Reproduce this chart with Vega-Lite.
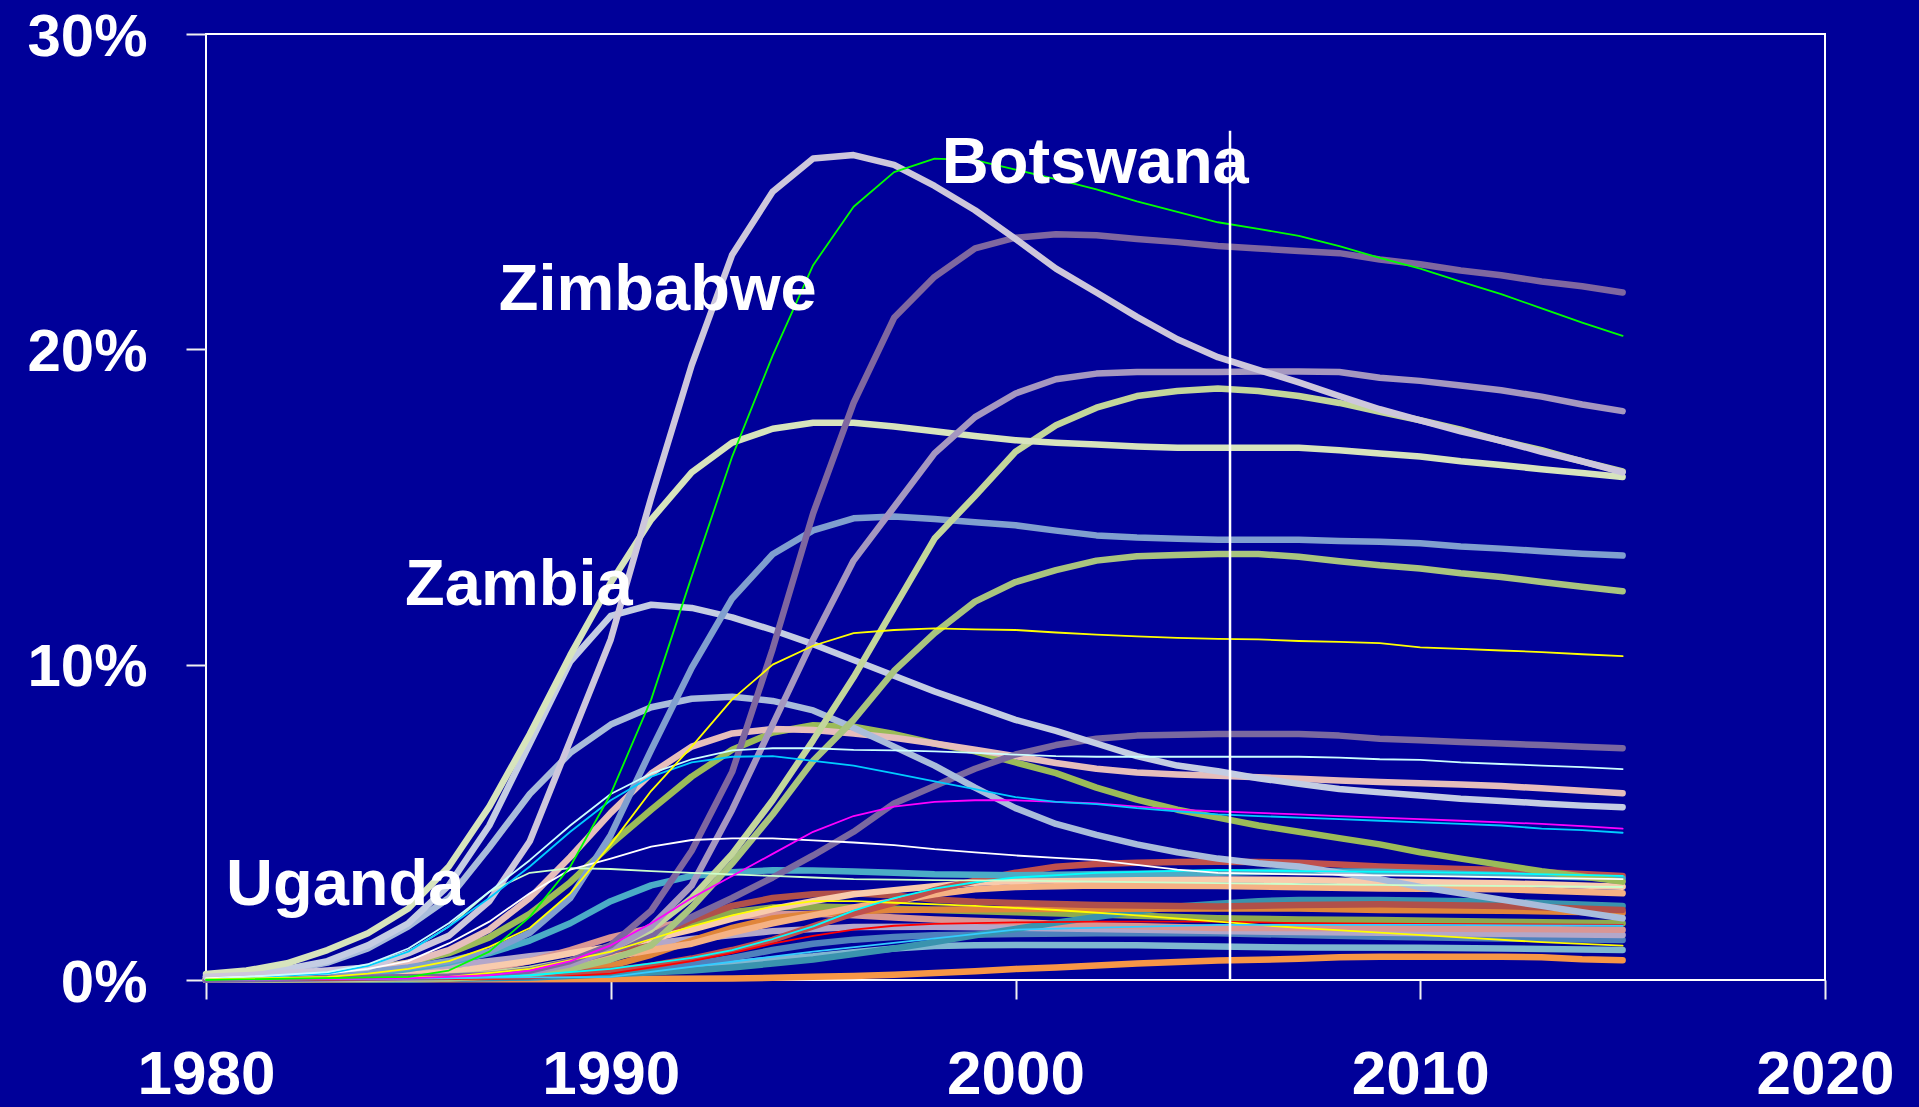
{
"$schema":"https://vega.github.io/schema/vega-lite/v6.json",
"width":1619,"height":946,
"autosize":{"type":"none"},
"padding":{"left":206,"top":34,"right":94,"bottom":127},
"background":"#000099",
"config":{"view":{"stroke":"#FFFFFF","strokeWidth":2,"fill":"#000099"},
"axis":{"grid":false,"domain":false,"title":null,"tickColor":"#F0F0F0","tickWidth":2,"labelFont":"Liberation Sans","labelFontWeight":"bold","labelFontSize":62,"labelColor":"#FFFFFF","labelOverlap":false,"labelFlush":false}},
"datasets":{
"d":[
{"s":"s01","yr":1980,"v":0.02},{"s":"s01","yr":1985,"v":0.02},{"s":"s01","yr":1990,"v":0.03},{"s":"s01","yr":1993,"v":0.05},{"s":"s01","yr":1994,"v":0.07},{"s":"s01","yr":1995,"v":0.1},{"s":"s01","yr":1996,"v":0.13},{"s":"s01","yr":1997,"v":0.17},{"s":"s01","yr":1998,"v":0.22},{"s":"s01","yr":1999,"v":0.28},{"s":"s01","yr":2000,"v":0.35},{"s":"s01","yr":2001,"v":0.4},{"s":"s01","yr":2002,"v":0.46},{"s":"s01","yr":2003,"v":0.52},{"s":"s01","yr":2004,"v":0.57},{"s":"s01","yr":2005,"v":0.62},{"s":"s01","yr":2006,"v":0.64},{"s":"s01","yr":2007,"v":0.67},{"s":"s01","yr":2008,"v":0.72},{"s":"s01","yr":2009,"v":0.74},{"s":"s01","yr":2012,"v":0.74},{"s":"s01","yr":2013,"v":0.72},{"s":"s01","yr":2014,"v":0.66},{"s":"s01","yr":2015,"v":0.63},
{"s":"s02","yr":1980,"v":0.01},{"s":"s02","yr":1985,"v":0.02},{"s":"s02","yr":1988,"v":0.08},{"s":"s02","yr":1990,"v":0.2},{"s":"s02","yr":1991,"v":0.3},{"s":"s02","yr":1992,"v":0.42},{"s":"s02","yr":1993,"v":0.53},{"s":"s02","yr":1994,"v":0.65},{"s":"s02","yr":1995,"v":0.75},{"s":"s02","yr":1996,"v":0.88},{"s":"s02","yr":1997,"v":1.0},{"s":"s02","yr":1998,"v":1.08},{"s":"s02","yr":1999,"v":1.1},{"s":"s02","yr":2000,"v":1.11},{"s":"s02","yr":2003,"v":1.1},{"s":"s02","yr":2005,"v":1.06},{"s":"s02","yr":2007,"v":1.03},{"s":"s02","yr":2010,"v":1.02},{"s":"s02","yr":2012,"v":1.0},{"s":"s02","yr":2015,"v":0.95},
{"s":"s03","yr":1980,"v":0.01},{"s":"s03","yr":1985,"v":0.03},{"s":"s03","yr":1988,"v":0.1},{"s":"s03","yr":1990,"v":0.25},{"s":"s03","yr":1991,"v":0.37},{"s":"s03","yr":1992,"v":0.5},{"s":"s03","yr":1993,"v":0.7},{"s":"s03","yr":1994,"v":0.95},{"s":"s03","yr":1995,"v":1.15},{"s":"s03","yr":1996,"v":1.28},{"s":"s03","yr":1997,"v":1.36},{"s":"s03","yr":1998,"v":1.42},{"s":"s03","yr":2000,"v":1.46},{"s":"s03","yr":2002,"v":1.48},{"s":"s03","yr":2005,"v":1.48},{"s":"s03","yr":2007,"v":1.43},{"s":"s03","yr":2009,"v":1.37},{"s":"s03","yr":2012,"v":1.32},{"s":"s03","yr":2015,"v":1.27},
{"s":"s04","yr":1980,"v":0.02},{"s":"s04","yr":1982,"v":0.05},{"s":"s04","yr":1984,"v":0.2},{"s":"s04","yr":1986,"v":0.45},{"s":"s04","yr":1988,"v":0.75},{"s":"s04","yr":1990,"v":1.0},{"s":"s04","yr":1992,"v":1.3},{"s":"s04","yr":1994,"v":1.55},{"s":"s04","yr":1996,"v":1.68},{"s":"s04","yr":1998,"v":1.69},{"s":"s04","yr":2000,"v":1.66},{"s":"s04","yr":2005,"v":1.55},{"s":"s04","yr":2009,"v":1.5},{"s":"s04","yr":2015,"v":1.43},
{"s":"s05","yr":1980,"v":0.01},{"s":"s05","yr":1985,"v":0.1},{"s":"s05","yr":1987,"v":0.35},{"s":"s05","yr":1988,"v":0.6},{"s":"s05","yr":1989,"v":0.95},{"s":"s05","yr":1990,"v":1.35},{"s":"s05","yr":1991,"v":1.65},{"s":"s05","yr":1992,"v":1.88},{"s":"s05","yr":1993,"v":2.0},{"s":"s05","yr":1994,"v":2.08},{"s":"s05","yr":1995,"v":2.1},{"s":"s05","yr":1996,"v":2.05},{"s":"s05","yr":1997,"v":1.98},{"s":"s05","yr":1998,"v":1.92},{"s":"s05","yr":2000,"v":1.83},{"s":"s05","yr":2002,"v":1.74},{"s":"s05","yr":2005,"v":1.65},{"s":"s05","yr":2009,"v":1.64},{"s":"s05","yr":2012,"v":1.62},{"s":"s05","yr":2015,"v":1.59},
{"s":"s06","yr":1980,"v":0.01},{"s":"s06","yr":1986,"v":0.1},{"s":"s06","yr":1988,"v":0.3},{"s":"s06","yr":1989,"v":0.55},{"s":"s06","yr":1990,"v":0.9},{"s":"s06","yr":1991,"v":1.35},{"s":"s06","yr":1992,"v":1.8},{"s":"s06","yr":1993,"v":2.15},{"s":"s06","yr":1994,"v":2.3},{"s":"s06","yr":1995,"v":2.33},{"s":"s06","yr":1996,"v":2.3},{"s":"s06","yr":1998,"v":2.22},{"s":"s06","yr":2000,"v":2.15},{"s":"s06","yr":2002,"v":2.08},{"s":"s06","yr":2005,"v":1.96},{"s":"s06","yr":2007,"v":1.92},{"s":"s06","yr":2009,"v":1.9},{"s":"s06","yr":2012,"v":1.85},{"s":"s06","yr":2015,"v":1.8},
{"s":"s07","yr":1980,"v":0.01},{"s":"s07","yr":1985,"v":0.02},{"s":"s07","yr":1988,"v":0.08},{"s":"s07","yr":1990,"v":0.18},{"s":"s07","yr":1992,"v":0.3},{"s":"s07","yr":1993,"v":0.4},{"s":"s07","yr":1994,"v":0.52},{"s":"s07","yr":1995,"v":0.65},{"s":"s07","yr":1996,"v":0.82},{"s":"s07","yr":1997,"v":1.0},{"s":"s07","yr":1998,"v":1.2},{"s":"s07","yr":1999,"v":1.42},{"s":"s07","yr":2000,"v":1.62},{"s":"s07","yr":2001,"v":1.82},{"s":"s07","yr":2002,"v":2.0},{"s":"s07","yr":2003,"v":2.18},{"s":"s07","yr":2004,"v":2.33},{"s":"s07","yr":2005,"v":2.42},{"s":"s07","yr":2006,"v":2.5},{"s":"s07","yr":2007,"v":2.54},{"s":"s07","yr":2009,"v":2.54},{"s":"s07","yr":2012,"v":2.48},{"s":"s07","yr":2015,"v":2.35},
{"s":"s08","yr":1980,"v":0.01},{"s":"s08","yr":1986,"v":0.05},{"s":"s08","yr":1988,"v":0.15},{"s":"s08","yr":1990,"v":0.45},{"s":"s08","yr":1991,"v":0.8},{"s":"s08","yr":1992,"v":1.25},{"s":"s08","yr":1993,"v":1.65},{"s":"s08","yr":1994,"v":1.95},{"s":"s08","yr":1995,"v":2.1},{"s":"s08","yr":1996,"v":2.18},{"s":"s08","yr":1997,"v":2.22},{"s":"s08","yr":2000,"v":2.25},{"s":"s08","yr":2005,"v":2.27},{"s":"s08","yr":2007,"v":2.27},{"s":"s08","yr":2009,"v":2.22},{"s":"s08","yr":2012,"v":2.2},{"s":"s08","yr":2015,"v":2.13},
{"s":"s09","yr":1980,"v":0.01},{"s":"s09","yr":1986,"v":0.1},{"s":"s09","yr":1988,"v":0.25},{"s":"s09","yr":1989,"v":0.45},{"s":"s09","yr":1990,"v":0.8},{"s":"s09","yr":1991,"v":1.3},{"s":"s09","yr":1992,"v":1.9},{"s":"s09","yr":1993,"v":2.35},{"s":"s09","yr":1994,"v":2.6},{"s":"s09","yr":1995,"v":2.72},{"s":"s09","yr":1996,"v":2.75},{"s":"s09","yr":1997,"v":2.68},{"s":"s09","yr":1998,"v":2.55},{"s":"s09","yr":1999,"v":2.48},{"s":"s09","yr":2000,"v":2.44},{"s":"s09","yr":2002,"v":2.38},{"s":"s09","yr":2005,"v":2.33},{"s":"s09","yr":2007,"v":2.38},{"s":"s09","yr":2009,"v":2.4},{"s":"s09","yr":2012,"v":2.35},{"s":"s09","yr":2015,"v":2.22},
{"s":"s10","yr":1980,"v":0.01},{"s":"s10","yr":1986,"v":0.1},{"s":"s10","yr":1988,"v":0.3},{"s":"s10","yr":1989,"v":0.5},{"s":"s10","yr":1990,"v":0.72},{"s":"s10","yr":1991,"v":0.95},{"s":"s10","yr":1992,"v":1.15},{"s":"s10","yr":1993,"v":1.5},{"s":"s10","yr":1994,"v":1.8},{"s":"s10","yr":1995,"v":2.05},{"s":"s10","yr":1996,"v":2.3},{"s":"s10","yr":1997,"v":2.5},{"s":"s10","yr":1998,"v":2.72},{"s":"s10","yr":1999,"v":2.88},{"s":"s10","yr":2000,"v":2.95},{"s":"s10","yr":2002,"v":3.0},{"s":"s10","yr":2005,"v":2.98},{"s":"s10","yr":2007,"v":2.94},{"s":"s10","yr":2009,"v":2.9},{"s":"s10","yr":2012,"v":2.88},{"s":"s10","yr":2015,"v":2.75},
{"s":"s11","yr":1980,"v":0.02},{"s":"s11","yr":1984,"v":0.08},{"s":"s11","yr":1986,"v":0.25},{"s":"s11","yr":1988,"v":0.6},{"s":"s11","yr":1989,"v":0.85},{"s":"s11","yr":1990,"v":1.05},{"s":"s11","yr":1991,"v":1.3},{"s":"s11","yr":1992,"v":1.6},{"s":"s11","yr":1993,"v":1.95},{"s":"s11","yr":1994,"v":2.25},{"s":"s11","yr":1995,"v":2.5},{"s":"s11","yr":1996,"v":2.72},{"s":"s11","yr":1997,"v":2.85},{"s":"s11","yr":1998,"v":2.97},{"s":"s11","yr":1999,"v":3.08},{"s":"s11","yr":2000,"v":3.14},{"s":"s11","yr":2001,"v":3.17},{"s":"s11","yr":2002,"v":3.19},{"s":"s11","yr":2005,"v":3.19},{"s":"s11","yr":2007,"v":3.17},{"s":"s11","yr":2009,"v":3.12},{"s":"s11","yr":2012,"v":3.07},{"s":"s11","yr":2015,"v":2.96},
{"s":"s12","yr":1980,"v":0.01},{"s":"s12","yr":1985,"v":0.05},{"s":"s12","yr":1988,"v":0.15},{"s":"s12","yr":1990,"v":0.3},{"s":"s12","yr":1991,"v":0.45},{"s":"s12","yr":1992,"v":0.68},{"s":"s12","yr":1993,"v":0.95},{"s":"s12","yr":1994,"v":1.27},{"s":"s12","yr":1995,"v":1.7},{"s":"s12","yr":1996,"v":2.11},{"s":"s12","yr":1997,"v":2.45},{"s":"s12","yr":1998,"v":2.85},{"s":"s12","yr":1999,"v":3.15},{"s":"s12","yr":2000,"v":3.4},{"s":"s12","yr":2001,"v":3.59},{"s":"s12","yr":2002,"v":3.68},{"s":"s12","yr":2003,"v":3.72},{"s":"s12","yr":2004,"v":3.74},{"s":"s12","yr":2005,"v":3.75},{"s":"s12","yr":2006,"v":3.74},{"s":"s12","yr":2007,"v":3.72},{"s":"s12","yr":2008,"v":3.66},{"s":"s12","yr":2009,"v":3.6},{"s":"s12","yr":2010,"v":3.56},{"s":"s12","yr":2011,"v":3.52},{"s":"s12","yr":2012,"v":3.49},{"s":"s12","yr":2013,"v":3.42},{"s":"s12","yr":2014,"v":3.36},{"s":"s12","yr":2015,"v":3.3},
{"s":"s13","yr":1980,"v":0.03},{"s":"s13","yr":1983,"v":0.1},{"s":"s13","yr":1984,"v":0.2},{"s":"s13","yr":1985,"v":0.35},{"s":"s13","yr":1986,"v":0.55},{"s":"s13","yr":1987,"v":0.85},{"s":"s13","yr":1988,"v":1.25},{"s":"s13","yr":1989,"v":1.8},{"s":"s13","yr":1990,"v":2.5},{"s":"s13","yr":1991,"v":3.0},{"s":"s13","yr":1992,"v":3.3},{"s":"s13","yr":1993,"v":3.42},{"s":"s13","yr":1994,"v":3.48},{"s":"s13","yr":1995,"v":3.47},{"s":"s13","yr":1996,"v":3.44},{"s":"s13","yr":1997,"v":3.4},{"s":"s13","yr":1998,"v":3.35},{"s":"s13","yr":2000,"v":3.32},{"s":"s13","yr":2002,"v":3.35},{"s":"s13","yr":2005,"v":3.4},{"s":"s13","yr":2007,"v":3.45},{"s":"s13","yr":2009,"v":3.43},{"s":"s13","yr":2012,"v":3.33},{"s":"s13","yr":2015,"v":3.22},
{"s":"s14","yr":1980,"v":0.0},{"s":"s14","yr":1988,"v":0.05},{"s":"s14","yr":1990,"v":0.2},{"s":"s14","yr":1992,"v":0.6},{"s":"s14","yr":1993,"v":0.85},{"s":"s14","yr":1994,"v":1.15},{"s":"s14","yr":1995,"v":1.4},{"s":"s14","yr":1996,"v":1.6},{"s":"s14","yr":1997,"v":1.72},{"s":"s14","yr":1998,"v":1.78},{"s":"s14","yr":2000,"v":1.83},{"s":"s14","yr":2002,"v":1.85},{"s":"s14","yr":2005,"v":1.85},{"s":"s14","yr":2007,"v":1.8},{"s":"s14","yr":2010,"v":1.78},{"s":"s14","yr":2015,"v":1.75},
{"s":"s15","yr":1980,"v":0.0},{"s":"s15","yr":1986,"v":0.1},{"s":"s15","yr":1988,"v":0.35},{"s":"s15","yr":1990,"v":0.9},{"s":"s15","yr":1991,"v":1.3},{"s":"s15","yr":1992,"v":1.7},{"s":"s15","yr":1993,"v":2.05},{"s":"s15","yr":1994,"v":2.33},{"s":"s15","yr":1995,"v":2.5},{"s":"s15","yr":1996,"v":2.5},{"s":"s15","yr":1997,"v":2.45},{"s":"s15","yr":1999,"v":2.35},{"s":"s15","yr":2001,"v":2.22},{"s":"s15","yr":2003,"v":2.05},{"s":"s15","yr":2005,"v":1.85},{"s":"s15","yr":2007,"v":1.65},{"s":"s15","yr":2009,"v":1.5},{"s":"s15","yr":2011,"v":1.35},{"s":"s15","yr":2013,"v":1.2},{"s":"s15","yr":2015,"v":1.09},
{"s":"s16","yr":1980,"v":0.0},{"s":"s16","yr":1986,"v":0.05},{"s":"s16","yr":1988,"v":0.15},{"s":"s16","yr":1990,"v":0.35},{"s":"s16","yr":1992,"v":0.7},{"s":"s16","yr":1993,"v":0.95},{"s":"s16","yr":1994,"v":1.3},{"s":"s16","yr":1995,"v":1.7},{"s":"s16","yr":1996,"v":2.2},{"s":"s16","yr":1997,"v":2.6},{"s":"s16","yr":1998,"v":2.9},{"s":"s16","yr":1999,"v":3.1},{"s":"s16","yr":2000,"v":3.25},{"s":"s16","yr":2002,"v":3.4},{"s":"s16","yr":2005,"v":3.49},{"s":"s16","yr":2007,"v":3.45},{"s":"s16","yr":2010,"v":3.42},{"s":"s16","yr":2012,"v":3.38},{"s":"s16","yr":2015,"v":3.3},
{"s":"s17","yr":1980,"v":0.0},{"s":"s17","yr":1990,"v":0.1},{"s":"s17","yr":1995,"v":0.9},{"s":"s17","yr":2000,"v":1.6},{"s":"s17","yr":2005,"v":1.75},{"s":"s17","yr":2010,"v":1.75},{"s":"s17","yr":2015,"v":1.72},
{"s":"s18","yr":1980,"v":0.05},{"s":"s18","yr":1983,"v":0.2},{"s":"s18","yr":1984,"v":0.45},{"s":"s18","yr":1985,"v":0.9},{"s":"s18","yr":1986,"v":1.7},{"s":"s18","yr":1987,"v":2.8},{"s":"s18","yr":1988,"v":3.4},{"s":"s18","yr":1989,"v":3.55},{"s":"s18","yr":1990,"v":3.52},{"s":"s18","yr":1991,"v":3.45},{"s":"s18","yr":1992,"v":3.4},{"s":"s18","yr":1993,"v":3.35},{"s":"s18","yr":1994,"v":3.3},{"s":"s18","yr":1995,"v":3.25},{"s":"s18","yr":1996,"v":3.2},{"s":"s18","yr":1998,"v":3.17},{"s":"s18","yr":2000,"v":3.15},{"s":"s18","yr":2002,"v":3.12},{"s":"s18","yr":2005,"v":3.07},{"s":"s18","yr":2010,"v":3.0},{"s":"s18","yr":2015,"v":2.95},
{"s":"s19","yr":1980,"v":0.05},{"s":"s19","yr":1983,"v":0.2},{"s":"s19","yr":1984,"v":0.35},{"s":"s19","yr":1985,"v":0.6},{"s":"s19","yr":1986,"v":1.16},{"s":"s19","yr":1987,"v":1.85},{"s":"s19","yr":1988,"v":2.75},{"s":"s19","yr":1989,"v":3.5},{"s":"s19","yr":1990,"v":3.85},{"s":"s19","yr":1991,"v":4.23},{"s":"s19","yr":1992,"v":4.44},{"s":"s19","yr":1993,"v":4.49},{"s":"s19","yr":1994,"v":4.49},{"s":"s19","yr":1995,"v":4.43},{"s":"s19","yr":1996,"v":4.36},{"s":"s19","yr":1997,"v":4.28},{"s":"s19","yr":1998,"v":4.15},{"s":"s19","yr":1999,"v":4.05},{"s":"s19","yr":2000,"v":3.95},{"s":"s19","yr":2001,"v":3.87},{"s":"s19","yr":2002,"v":3.8},{"s":"s19","yr":2003,"v":3.65},{"s":"s19","yr":2004,"v":3.5},{"s":"s19","yr":2005,"v":3.4},{"s":"s19","yr":2007,"v":3.35},{"s":"s19","yr":2010,"v":3.3},{"s":"s19","yr":2015,"v":3.2},
{"s":"s20","yr":1980,"v":0.0},{"s":"s20","yr":1985,"v":0.05},{"s":"s20","yr":1987,"v":0.15},{"s":"s20","yr":1988,"v":0.3},{"s":"s20","yr":1989,"v":0.6},{"s":"s20","yr":1990,"v":1.1},{"s":"s20","yr":1991,"v":1.8},{"s":"s20","yr":1992,"v":2.6},{"s":"s20","yr":1993,"v":3.3},{"s":"s20","yr":1994,"v":4.0},{"s":"s20","yr":1995,"v":4.7},{"s":"s20","yr":1996,"v":5.2},{"s":"s20","yr":1997,"v":5.5},{"s":"s20","yr":1998,"v":5.65},{"s":"s20","yr":1999,"v":5.7},{"s":"s20","yr":2000,"v":5.7},{"s":"s20","yr":2001,"v":5.65},{"s":"s20","yr":2002,"v":5.6},{"s":"s20","yr":2003,"v":5.5},{"s":"s20","yr":2004,"v":5.4},{"s":"s20","yr":2005,"v":5.35},{"s":"s20","yr":2006,"v":5.3},{"s":"s20","yr":2007,"v":5.25},{"s":"s20","yr":2008,"v":5.2},{"s":"s20","yr":2009,"v":5.15},{"s":"s20","yr":2010,"v":5.1},{"s":"s20","yr":2011,"v":5.05},{"s":"s20","yr":2012,"v":5.0},{"s":"s20","yr":2013,"v":4.95},{"s":"s20","yr":2014,"v":4.88},{"s":"s20","yr":2015,"v":4.8},
{"s":"s21","yr":1980,"v":0.02},{"s":"s21","yr":1983,"v":0.2},{"s":"s21","yr":1984,"v":0.45},{"s":"s21","yr":1985,"v":0.9},{"s":"s21","yr":1986,"v":1.7},{"s":"s21","yr":1987,"v":2.6},{"s":"s21","yr":1988,"v":3.6},{"s":"s21","yr":1989,"v":4.7},{"s":"s21","yr":1990,"v":5.7},{"s":"s21","yr":1991,"v":6.45},{"s":"s21","yr":1992,"v":6.9},{"s":"s21","yr":1993,"v":7.08},{"s":"s21","yr":1994,"v":7.1},{"s":"s21","yr":1995,"v":6.95},{"s":"s21","yr":1996,"v":6.8},{"s":"s21","yr":1997,"v":6.55},{"s":"s21","yr":1998,"v":6.3},{"s":"s21","yr":1999,"v":6.05},{"s":"s21","yr":2000,"v":5.8},{"s":"s21","yr":2001,"v":5.65},{"s":"s21","yr":2002,"v":5.58},{"s":"s21","yr":2003,"v":5.45},{"s":"s21","yr":2004,"v":5.35},{"s":"s21","yr":2005,"v":5.25},{"s":"s21","yr":2006,"v":5.2},{"s":"s21","yr":2007,"v":5.15},{"s":"s21","yr":2008,"v":5.1},{"s":"s21","yr":2009,"v":5.05},{"s":"s21","yr":2010,"v":5.0},{"s":"s21","yr":2011,"v":4.95},{"s":"s21","yr":2012,"v":4.9},{"s":"s21","yr":2013,"v":4.8},{"s":"s21","yr":2014,"v":4.75},{"s":"s21","yr":2015,"v":4.67},
{"s":"s22","yr":1980,"v":0.02},{"s":"s22","yr":1983,"v":0.25},{"s":"s22","yr":1984,"v":0.5},{"s":"s22","yr":1985,"v":1.0},{"s":"s22","yr":1986,"v":1.8},{"s":"s22","yr":1987,"v":2.8},{"s":"s22","yr":1988,"v":3.8},{"s":"s22","yr":1989,"v":4.9},{"s":"s22","yr":1990,"v":5.9},{"s":"s22","yr":1991,"v":6.55},{"s":"s22","yr":1992,"v":7.0},{"s":"s22","yr":1993,"v":7.28},{"s":"s22","yr":1994,"v":7.35},{"s":"s22","yr":1995,"v":7.35},{"s":"s22","yr":1996,"v":7.3},{"s":"s22","yr":1997,"v":7.28},{"s":"s22","yr":1998,"v":7.25},{"s":"s22","yr":1999,"v":7.2},{"s":"s22","yr":2000,"v":7.15},{"s":"s22","yr":2001,"v":7.1},{"s":"s22","yr":2002,"v":7.08},{"s":"s22","yr":2007,"v":7.08},{"s":"s22","yr":2008,"v":7.05},{"s":"s22","yr":2009,"v":7.0},{"s":"s22","yr":2010,"v":6.98},{"s":"s22","yr":2011,"v":6.9},{"s":"s22","yr":2012,"v":6.85},{"s":"s22","yr":2013,"v":6.8},{"s":"s22","yr":2014,"v":6.75},{"s":"s22","yr":2015,"v":6.69},
{"s":"s23","yr":1980,"v":0.05},{"s":"s23","yr":1982,"v":0.1},{"s":"s23","yr":1983,"v":0.2},{"s":"s23","yr":1984,"v":0.35},{"s":"s23","yr":1985,"v":0.55},{"s":"s23","yr":1986,"v":0.85},{"s":"s23","yr":1987,"v":1.35},{"s":"s23","yr":1988,"v":2.1},{"s":"s23","yr":1989,"v":3.1},{"s":"s23","yr":1990,"v":4.3},{"s":"s23","yr":1991,"v":5.4},{"s":"s23","yr":1992,"v":6.45},{"s":"s23","yr":1993,"v":7.3},{"s":"s23","yr":1994,"v":7.85},{"s":"s23","yr":1995,"v":8.08},{"s":"s23","yr":1996,"v":8.03},{"s":"s23","yr":1997,"v":7.8},{"s":"s23","yr":1998,"v":7.5},{"s":"s23","yr":1999,"v":7.25},{"s":"s23","yr":2000,"v":6.9},{"s":"s23","yr":2001,"v":6.56},{"s":"s23","yr":2002,"v":6.1},{"s":"s23","yr":2003,"v":5.72},{"s":"s23","yr":2004,"v":5.4},{"s":"s23","yr":2005,"v":5.15},{"s":"s23","yr":2006,"v":4.9},{"s":"s23","yr":2007,"v":4.7},{"s":"s23","yr":2008,"v":4.5},{"s":"s23","yr":2009,"v":4.3},{"s":"s23","yr":2010,"v":4.05},{"s":"s23","yr":2011,"v":3.85},{"s":"s23","yr":2012,"v":3.65},{"s":"s23","yr":2013,"v":3.45},{"s":"s23","yr":2014,"v":3.28},{"s":"s23","yr":2015,"v":3.12},
{"s":"s24","yr":1980,"v":0.02},{"s":"s24","yr":1983,"v":0.15},{"s":"s24","yr":1984,"v":0.3},{"s":"s24","yr":1985,"v":0.55},{"s":"s24","yr":1986,"v":0.95},{"s":"s24","yr":1987,"v":1.6},{"s":"s24","yr":1988,"v":2.6},{"s":"s24","yr":1989,"v":3.9},{"s":"s24","yr":1990,"v":5.3},{"s":"s24","yr":1991,"v":6.55},{"s":"s24","yr":1992,"v":7.4},{"s":"s24","yr":1993,"v":7.82},{"s":"s24","yr":1994,"v":7.96},{"s":"s24","yr":1995,"v":7.93},{"s":"s24","yr":1996,"v":7.82},{"s":"s24","yr":1997,"v":7.68},{"s":"s24","yr":1998,"v":7.5},{"s":"s24","yr":1999,"v":7.3},{"s":"s24","yr":2000,"v":7.1},{"s":"s24","yr":2001,"v":6.88},{"s":"s24","yr":2002,"v":6.7},{"s":"s24","yr":2003,"v":6.58},{"s":"s24","yr":2004,"v":6.52},{"s":"s24","yr":2005,"v":6.48},{"s":"s24","yr":2006,"v":6.43},{"s":"s24","yr":2007,"v":6.38},{"s":"s24","yr":2008,"v":6.33},{"s":"s24","yr":2009,"v":6.28},{"s":"s24","yr":2010,"v":6.24},{"s":"s24","yr":2011,"v":6.2},{"s":"s24","yr":2012,"v":6.15},{"s":"s24","yr":2013,"v":6.08},{"s":"s24","yr":2014,"v":6.0},{"s":"s24","yr":2015,"v":5.92},
{"s":"s25","yr":1980,"v":0.01},{"s":"s25","yr":1985,"v":0.05},{"s":"s25","yr":1987,"v":0.15},{"s":"s25","yr":1988,"v":0.3},{"s":"s25","yr":1989,"v":0.55},{"s":"s25","yr":1990,"v":0.9},{"s":"s25","yr":1991,"v":1.4},{"s":"s25","yr":1992,"v":2.0},{"s":"s25","yr":1993,"v":2.6},{"s":"s25","yr":1994,"v":3.25},{"s":"s25","yr":1995,"v":3.95},{"s":"s25","yr":1996,"v":4.7},{"s":"s25","yr":1997,"v":5.6},{"s":"s25","yr":1998,"v":6.15},{"s":"s25","yr":1999,"v":6.7},{"s":"s25","yr":2000,"v":7.15},{"s":"s25","yr":2001,"v":7.45},{"s":"s25","yr":2002,"v":7.65},{"s":"s25","yr":2003,"v":7.75},{"s":"s25","yr":2004,"v":7.78},{"s":"s25","yr":2005,"v":7.8},{"s":"s25","yr":2007,"v":7.8},{"s":"s25","yr":2008,"v":7.75},{"s":"s25","yr":2009,"v":7.65},{"s":"s25","yr":2010,"v":7.6},{"s":"s25","yr":2011,"v":7.55},{"s":"s25","yr":2012,"v":7.5},{"s":"s25","yr":2013,"v":7.45},{"s":"s25","yr":2014,"v":7.4},{"s":"s25","yr":2015,"v":7.35},
{"s":"s26","yr":1980,"v":0.1},{"s":"s26","yr":1981,"v":0.15},{"s":"s26","yr":1982,"v":0.3},{"s":"s26","yr":1983,"v":0.55},{"s":"s26","yr":1984,"v":1.0},{"s":"s26","yr":1985,"v":1.7},{"s":"s26","yr":1986,"v":2.6},{"s":"s26","yr":1987,"v":4.2},{"s":"s26","yr":1988,"v":5.9},{"s":"s26","yr":1989,"v":7.2},{"s":"s26","yr":1990,"v":8.1},{"s":"s26","yr":1991,"v":8.65},{"s":"s26","yr":1992,"v":8.92},{"s":"s26","yr":1993,"v":8.98},{"s":"s26","yr":1994,"v":8.85},{"s":"s26","yr":1995,"v":8.55},{"s":"s26","yr":1996,"v":8.0},{"s":"s26","yr":1997,"v":7.4},{"s":"s26","yr":1998,"v":6.8},{"s":"s26","yr":1999,"v":6.1},{"s":"s26","yr":2000,"v":5.45},{"s":"s26","yr":2001,"v":4.95},{"s":"s26","yr":2002,"v":4.6},{"s":"s26","yr":2003,"v":4.3},{"s":"s26","yr":2004,"v":4.05},{"s":"s26","yr":2005,"v":3.85},{"s":"s26","yr":2006,"v":3.7},{"s":"s26","yr":2007,"v":3.6},{"s":"s26","yr":2008,"v":3.4},{"s":"s26","yr":2009,"v":3.2},{"s":"s26","yr":2010,"v":2.95},{"s":"s26","yr":2011,"v":2.75},{"s":"s26","yr":2012,"v":2.55},{"s":"s26","yr":2013,"v":2.35},{"s":"s26","yr":2014,"v":2.15},{"s":"s26","yr":2015,"v":1.96},
{"s":"s27","yr":1980,"v":0.1},{"s":"s27","yr":1981,"v":0.2},{"s":"s27","yr":1982,"v":0.35},{"s":"s27","yr":1983,"v":0.6},{"s":"s27","yr":1984,"v":1.1},{"s":"s27","yr":1985,"v":1.8},{"s":"s27","yr":1986,"v":3.0},{"s":"s27","yr":1987,"v":4.9},{"s":"s27","yr":1988,"v":7.5},{"s":"s27","yr":1989,"v":10.1},{"s":"s27","yr":1990,"v":11.55},{"s":"s27","yr":1991,"v":11.9},{"s":"s27","yr":1992,"v":11.8},{"s":"s27","yr":1993,"v":11.5},{"s":"s27","yr":1994,"v":11.1},{"s":"s27","yr":1995,"v":10.65},{"s":"s27","yr":1996,"v":10.15},{"s":"s27","yr":1997,"v":9.65},{"s":"s27","yr":1998,"v":9.15},{"s":"s27","yr":1999,"v":8.7},{"s":"s27","yr":2000,"v":8.25},{"s":"s27","yr":2001,"v":7.9},{"s":"s27","yr":2002,"v":7.5},{"s":"s27","yr":2003,"v":7.1},{"s":"s27","yr":2004,"v":6.8},{"s":"s27","yr":2005,"v":6.62},{"s":"s27","yr":2006,"v":6.4},{"s":"s27","yr":2007,"v":6.22},{"s":"s27","yr":2008,"v":6.06},{"s":"s27","yr":2009,"v":5.95},{"s":"s27","yr":2010,"v":5.85},{"s":"s27","yr":2011,"v":5.75},{"s":"s27","yr":2012,"v":5.68},{"s":"s27","yr":2013,"v":5.6},{"s":"s27","yr":2014,"v":5.53},{"s":"s27","yr":2015,"v":5.48},
{"s":"s28","yr":1980,"v":0.02},{"s":"s28","yr":1983,"v":0.1},{"s":"s28","yr":1984,"v":0.2},{"s":"s28","yr":1985,"v":0.35},{"s":"s28","yr":1986,"v":0.6},{"s":"s28","yr":1987,"v":1.05},{"s":"s28","yr":1988,"v":1.65},{"s":"s28","yr":1989,"v":2.75},{"s":"s28","yr":1990,"v":4.3},{"s":"s28","yr":1991,"v":6.0},{"s":"s28","yr":1992,"v":7.4},{"s":"s28","yr":1993,"v":8.9},{"s":"s28","yr":1994,"v":10.0},{"s":"s28","yr":1995,"v":10.6},{"s":"s28","yr":1996,"v":11.0},{"s":"s28","yr":1997,"v":11.1},{"s":"s28","yr":1998,"v":11.15},{"s":"s28","yr":1999,"v":11.12},{"s":"s28","yr":2000,"v":11.1},{"s":"s28","yr":2001,"v":11.02},{"s":"s28","yr":2002,"v":10.95},{"s":"s28","yr":2003,"v":10.9},{"s":"s28","yr":2004,"v":10.85},{"s":"s28","yr":2005,"v":10.82},{"s":"s28","yr":2006,"v":10.8},{"s":"s28","yr":2007,"v":10.75},{"s":"s28","yr":2008,"v":10.72},{"s":"s28","yr":2009,"v":10.68},{"s":"s28","yr":2010,"v":10.55},{"s":"s28","yr":2011,"v":10.5},{"s":"s28","yr":2012,"v":10.45},{"s":"s28","yr":2013,"v":10.4},{"s":"s28","yr":2014,"v":10.33},{"s":"s28","yr":2015,"v":10.27},
{"s":"s29","yr":1980,"v":0.01},{"s":"s29","yr":1986,"v":0.05},{"s":"s29","yr":1988,"v":0.2},{"s":"s29","yr":1989,"v":0.35},{"s":"s29","yr":1990,"v":0.65},{"s":"s29","yr":1991,"v":1.1},{"s":"s29","yr":1992,"v":2.3},{"s":"s29","yr":1993,"v":3.7},{"s":"s29","yr":1994,"v":5.25},{"s":"s29","yr":1995,"v":6.95},{"s":"s29","yr":1996,"v":8.25},{"s":"s29","yr":1997,"v":9.8},{"s":"s29","yr":1998,"v":11.0},{"s":"s29","yr":1999,"v":12.0},{"s":"s29","yr":2000,"v":12.62},{"s":"s29","yr":2001,"v":13.0},{"s":"s29","yr":2002,"v":13.3},{"s":"s29","yr":2003,"v":13.44},{"s":"s29","yr":2004,"v":13.48},{"s":"s29","yr":2005,"v":13.51},{"s":"s29","yr":2006,"v":13.51},{"s":"s29","yr":2007,"v":13.42},{"s":"s29","yr":2008,"v":13.28},{"s":"s29","yr":2009,"v":13.15},{"s":"s29","yr":2010,"v":13.05},{"s":"s29","yr":2011,"v":12.9},{"s":"s29","yr":2012,"v":12.78},{"s":"s29","yr":2013,"v":12.62},{"s":"s29","yr":2014,"v":12.47},{"s":"s29","yr":2015,"v":12.33},
{"s":"s30","yr":1980,"v":0.02},{"s":"s30","yr":1983,"v":0.15},{"s":"s30","yr":1984,"v":0.25},{"s":"s30","yr":1985,"v":0.4},{"s":"s30","yr":1986,"v":0.6},{"s":"s30","yr":1987,"v":0.9},{"s":"s30","yr":1988,"v":1.5},{"s":"s30","yr":1989,"v":2.6},{"s":"s30","yr":1990,"v":4.6},{"s":"s30","yr":1991,"v":7.3},{"s":"s30","yr":1992,"v":9.9},{"s":"s30","yr":1993,"v":12.1},{"s":"s30","yr":1994,"v":13.5},{"s":"s30","yr":1995,"v":14.26},{"s":"s30","yr":1996,"v":14.64},{"s":"s30","yr":1997,"v":14.7},{"s":"s30","yr":1998,"v":14.62},{"s":"s30","yr":1999,"v":14.52},{"s":"s30","yr":2000,"v":14.42},{"s":"s30","yr":2001,"v":14.25},{"s":"s30","yr":2002,"v":14.1},{"s":"s30","yr":2003,"v":14.03},{"s":"s30","yr":2004,"v":13.99},{"s":"s30","yr":2005,"v":13.96},{"s":"s30","yr":2007,"v":13.96},{"s":"s30","yr":2008,"v":13.92},{"s":"s30","yr":2009,"v":13.9},{"s":"s30","yr":2010,"v":13.85},{"s":"s30","yr":2011,"v":13.75},{"s":"s30","yr":2012,"v":13.68},{"s":"s30","yr":2013,"v":13.6},{"s":"s30","yr":2014,"v":13.52},{"s":"s30","yr":2015,"v":13.46},
{"s":"s31","yr":1980,"v":0.01},{"s":"s31","yr":1984,"v":0.05},{"s":"s31","yr":1986,"v":0.12},{"s":"s31","yr":1987,"v":0.2},{"s":"s31","yr":1988,"v":0.35},{"s":"s31","yr":1989,"v":0.6},{"s":"s31","yr":1990,"v":1.0},{"s":"s31","yr":1991,"v":1.6},{"s":"s31","yr":1992,"v":2.6},{"s":"s31","yr":1993,"v":4.0},{"s":"s31","yr":1994,"v":5.7},{"s":"s31","yr":1995,"v":7.6},{"s":"s31","yr":1996,"v":9.6},{"s":"s31","yr":1997,"v":11.8},{"s":"s31","yr":1998,"v":14.0},{"s":"s31","yr":1999,"v":15.35},{"s":"s31","yr":2000,"v":16.75},{"s":"s31","yr":2001,"v":17.59},{"s":"s31","yr":2002,"v":18.15},{"s":"s31","yr":2003,"v":18.52},{"s":"s31","yr":2004,"v":18.68},{"s":"s31","yr":2005,"v":18.76},{"s":"s31","yr":2006,"v":18.68},{"s":"s31","yr":2007,"v":18.52},{"s":"s31","yr":2008,"v":18.3},{"s":"s31","yr":2009,"v":18.02},{"s":"s31","yr":2010,"v":17.75},{"s":"s31","yr":2011,"v":17.45},{"s":"s31","yr":2012,"v":17.1},{"s":"s31","yr":2013,"v":16.8},{"s":"s31","yr":2014,"v":16.45},{"s":"s31","yr":2015,"v":16.13},
{"s":"s32","yr":1980,"v":0.19},{"s":"s32","yr":1981,"v":0.3},{"s":"s32","yr":1982,"v":0.53},{"s":"s32","yr":1983,"v":0.95},{"s":"s32","yr":1984,"v":1.48},{"s":"s32","yr":1985,"v":2.27},{"s":"s32","yr":1986,"v":3.6},{"s":"s32","yr":1987,"v":5.5},{"s":"s32","yr":1988,"v":7.8},{"s":"s32","yr":1989,"v":10.3},{"s":"s32","yr":1990,"v":12.6},{"s":"s32","yr":1991,"v":14.6},{"s":"s32","yr":1992,"v":16.1},{"s":"s32","yr":1993,"v":17.04},{"s":"s32","yr":1994,"v":17.48},{"s":"s32","yr":1995,"v":17.67},{"s":"s32","yr":1996,"v":17.67},{"s":"s32","yr":1997,"v":17.55},{"s":"s32","yr":1998,"v":17.4},{"s":"s32","yr":1999,"v":17.25},{"s":"s32","yr":2000,"v":17.12},{"s":"s32","yr":2001,"v":17.04},{"s":"s32","yr":2002,"v":16.98},{"s":"s32","yr":2003,"v":16.92},{"s":"s32","yr":2004,"v":16.88},{"s":"s32","yr":2007,"v":16.88},{"s":"s32","yr":2008,"v":16.8},{"s":"s32","yr":2009,"v":16.7},{"s":"s32","yr":2010,"v":16.6},{"s":"s32","yr":2011,"v":16.45},{"s":"s32","yr":2012,"v":16.33},{"s":"s32","yr":2013,"v":16.2},{"s":"s32","yr":2014,"v":16.08},{"s":"s32","yr":2015,"v":15.95},
{"s":"s33","yr":1980,"v":0.01},{"s":"s33","yr":1986,"v":0.1},{"s":"s33","yr":1988,"v":0.25},{"s":"s33","yr":1989,"v":0.5},{"s":"s33","yr":1990,"v":0.95},{"s":"s33","yr":1991,"v":1.7},{"s":"s33","yr":1992,"v":3.0},{"s":"s33","yr":1993,"v":5.4},{"s":"s33","yr":1994,"v":8.1},{"s":"s33","yr":1995,"v":10.8},{"s":"s33","yr":1996,"v":13.3},{"s":"s33","yr":1997,"v":15.0},{"s":"s33","yr":1998,"v":16.7},{"s":"s33","yr":1999,"v":17.85},{"s":"s33","yr":2000,"v":18.6},{"s":"s33","yr":2001,"v":19.05},{"s":"s33","yr":2002,"v":19.23},{"s":"s33","yr":2003,"v":19.28},{"s":"s33","yr":2005,"v":19.28},{"s":"s33","yr":2006,"v":19.3},{"s":"s33","yr":2007,"v":19.3},{"s":"s33","yr":2008,"v":19.28},{"s":"s33","yr":2009,"v":19.1},{"s":"s33","yr":2010,"v":19.0},{"s":"s33","yr":2011,"v":18.85},{"s":"s33","yr":2012,"v":18.7},{"s":"s33","yr":2013,"v":18.5},{"s":"s33","yr":2014,"v":18.25},{"s":"s33","yr":2015,"v":18.04},
{"s":"s34","yr":1980,"v":0.01},{"s":"s34","yr":1986,"v":0.1},{"s":"s34","yr":1987,"v":0.15},{"s":"s34","yr":1988,"v":0.3},{"s":"s34","yr":1989,"v":0.6},{"s":"s34","yr":1990,"v":1.1},{"s":"s34","yr":1991,"v":2.2},{"s":"s34","yr":1992,"v":4.1},{"s":"s34","yr":1993,"v":6.6},{"s":"s34","yr":1994,"v":10.5},{"s":"s34","yr":1995,"v":14.8},{"s":"s34","yr":1996,"v":18.3},{"s":"s34","yr":1997,"v":21.0},{"s":"s34","yr":1998,"v":22.3},{"s":"s34","yr":1999,"v":23.2},{"s":"s34","yr":2000,"v":23.54},{"s":"s34","yr":2001,"v":23.65},{"s":"s34","yr":2002,"v":23.62},{"s":"s34","yr":2003,"v":23.5},{"s":"s34","yr":2004,"v":23.4},{"s":"s34","yr":2005,"v":23.28},{"s":"s34","yr":2006,"v":23.2},{"s":"s34","yr":2007,"v":23.12},{"s":"s34","yr":2008,"v":23.05},{"s":"s34","yr":2009,"v":22.85},{"s":"s34","yr":2010,"v":22.7},{"s":"s34","yr":2011,"v":22.5},{"s":"s34","yr":2012,"v":22.35},{"s":"s34","yr":2013,"v":22.15},{"s":"s34","yr":2014,"v":22.0},{"s":"s34","yr":2015,"v":21.8},
{"s":"s35","yr":1980,"v":0.1},{"s":"s35","yr":1981,"v":0.15},{"s":"s35","yr":1982,"v":0.22},{"s":"s35","yr":1983,"v":0.3},{"s":"s35","yr":1984,"v":0.4},{"s":"s35","yr":1985,"v":0.85},{"s":"s35","yr":1986,"v":1.4},{"s":"s35","yr":1987,"v":2.5},{"s":"s35","yr":1988,"v":4.4},{"s":"s35","yr":1989,"v":7.6},{"s":"s35","yr":1990,"v":10.8},{"s":"s35","yr":1991,"v":15.3},{"s":"s35","yr":1992,"v":19.5},{"s":"s35","yr":1993,"v":23.0},{"s":"s35","yr":1994,"v":25.0},{"s":"s35","yr":1995,"v":26.05},{"s":"s35","yr":1996,"v":26.16},{"s":"s35","yr":1997,"v":25.85},{"s":"s35","yr":1998,"v":25.18},{"s":"s35","yr":1999,"v":24.41},{"s":"s35","yr":2000,"v":23.5},{"s":"s35","yr":2001,"v":22.56},{"s":"s35","yr":2002,"v":21.8},{"s":"s35","yr":2003,"v":21.03},{"s":"s35","yr":2004,"v":20.32},{"s":"s35","yr":2005,"v":19.75},{"s":"s35","yr":2006,"v":19.35},{"s":"s35","yr":2007,"v":18.95},{"s":"s35","yr":2008,"v":18.52},{"s":"s35","yr":2009,"v":18.1},{"s":"s35","yr":2010,"v":17.75},{"s":"s35","yr":2011,"v":17.4},{"s":"s35","yr":2012,"v":17.1},{"s":"s35","yr":2013,"v":16.75},{"s":"s35","yr":2014,"v":16.45},{"s":"s35","yr":2015,"v":16.1},
{"s":"s36","yr":1980,"v":0.0},{"s":"s36","yr":1985,"v":0.1},{"s":"s36","yr":1986,"v":0.3},{"s":"s36","yr":1987,"v":0.9},{"s":"s36","yr":1988,"v":2.0},{"s":"s36","yr":1989,"v":3.6},{"s":"s36","yr":1990,"v":5.9},{"s":"s36","yr":1991,"v":8.9},{"s":"s36","yr":1992,"v":12.8},{"s":"s36","yr":1993,"v":16.6},{"s":"s36","yr":1994,"v":19.8},{"s":"s36","yr":1995,"v":22.67},{"s":"s36","yr":1996,"v":24.52},{"s":"s36","yr":1997,"v":25.62},{"s":"s36","yr":1998,"v":26.05},{"s":"s36","yr":1999,"v":26.0},{"s":"s36","yr":2000,"v":25.7},{"s":"s36","yr":2001,"v":25.4},{"s":"s36","yr":2002,"v":25.07},{"s":"s36","yr":2003,"v":24.69},{"s":"s36","yr":2004,"v":24.36},{"s":"s36","yr":2005,"v":24.03},{"s":"s36","yr":2006,"v":23.82},{"s":"s36","yr":2007,"v":23.6},{"s":"s36","yr":2008,"v":23.27},{"s":"s36","yr":2009,"v":22.9},{"s":"s36","yr":2010,"v":22.56},{"s":"s36","yr":2011,"v":22.15},{"s":"s36","yr":2012,"v":21.75},{"s":"s36","yr":2013,"v":21.3},{"s":"s36","yr":2014,"v":20.85},{"s":"s36","yr":2015,"v":20.43}
],
"labels":[{"label":"Botswana","yr":2001.97,"v":25.29},{"label":"Zimbabwe","yr":1991.16,"v":21.25},{"label":"Zambia","yr":1987.73,"v":11.88},{"label":"Uganda","yr":1983.44,"v":2.38}],
"marker":[{"yr":2005.3,"v":0,"v2":26.93}]
},
"encoding":{
"x":{"field":"yr","type":"quantitative","scale":{"domain":[1980,2020],"nice":false,"zero":false},"axis":{"values":[1980,1990,2000,2010,2020],"format":"d","tickSize":19,"labelPadding":45}},
"y":{"field":"v","type":"quantitative","scale":{"domain":[0,30],"nice":false,"zero":true},"axis":{"values":[0,10,20,30],"labelExpr":"datum.value + '%'","tickSize":20,"labelPadding":39,"labelFontSize":60,"labelOffset":3}}
},
"layer":[
{"data":{"name":"d"},"transform":[{"filter":{"field":"s","oneOf":["s01","s02","s03","s04","s05","s06","s07","s08","s09","s10","s11","s12","s13","s23","s24","s25","s26","s27","s29","s30","s31","s32","s33","s34","s35"]}}],
"mark":{"type":"line","strokeWidth":6.5,"strokeCap":"round","strokeJoin":"round"},
"encoding":{"color":{"field":"s","type":"nominal","legend":null,"scale":{"domain":["s01","s02","s03","s04","s05","s06","s07","s08","s09","s10","s11","s12","s13","s14","s15","s16","s17","s18","s19","s20","s21","s22","s23","s24","s25","s26","s27","s28","s29","s30","s31","s32","s33","s34","s35","s36"],"range":["#F79646","#7FB7D0","#4F81BD","#B3A7CA","#D99694","#8EAA4E","#3A93AE","#E0853A","#B0504A","#F5B184","#F8CBAD","#C0504D","#4BACC6","#FF0000","#FFFF00","#00FFFF","#33CCFF","#CCFFCC","#FFFFFF","#FF00FF","#00CCFF","#CCFFFF","#9BBB59","#E6BEBC","#7A68A0","#A9BCDB","#C4CDE3","#FFFF00","#A9C47F","#809FCF","#C3D69B","#D7E4BD","#A597C0","#7F67A0","#CDC7DC","#00FF00"]}}}},
{"data":{"name":"d"},"transform":[{"filter":{"field":"s","oneOf":["s14","s15","s16","s17","s18","s19","s20","s21","s22","s28","s36"]}}],
"mark":{"type":"line","strokeWidth":1.8,"strokeCap":"round","strokeJoin":"round"},
"encoding":{"color":{"field":"s","type":"nominal","legend":null}}},
{"data":{"name":"marker"},"mark":{"type":"rule","color":"#FFFFFF","strokeWidth":2.5},"encoding":{"y2":{"field":"v2"}}},
{"data":{"name":"labels"},"mark":{"type":"text","font":"Liberation Sans","fontWeight":"bold","fontSize":65,"fill":"#FFFFFF","align":"center","baseline":"alphabetic"},"encoding":{"text":{"field":"label"}}}
]
}
